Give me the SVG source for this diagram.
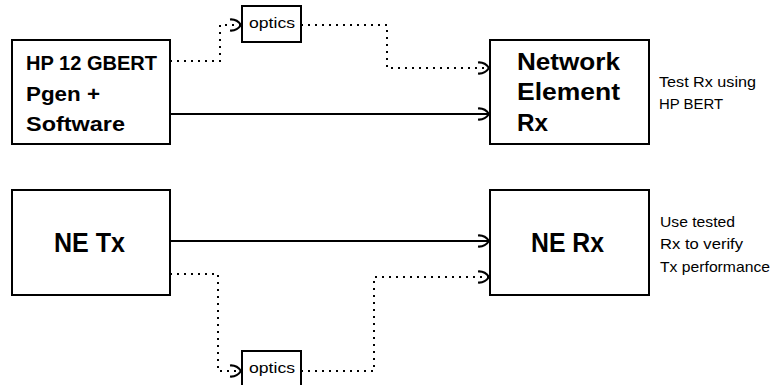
<svg xmlns="http://www.w3.org/2000/svg" width="782" height="385" viewBox="0 0 782 385">
<style>
.box{fill:#fff;stroke:#000;stroke-width:2}
.big{font-family:"Liberation Sans",Arial,sans-serif;font-weight:bold;fill:#000}
.small{font-family:"Liberation Sans",Arial,sans-serif;font-size:15px;fill:#000}
.solid{fill:none;stroke:#000;stroke-width:2;marker-end:url(#arr)}
.dot{fill:none;stroke:#000;stroke-width:2;stroke-dasharray:2 5;marker-end:url(#arr)}
</style>
<defs>
<marker id="arr" markerUnits="userSpaceOnUse" markerWidth="16" markerHeight="16" refX="14" refY="8" orient="auto" overflow="visible">
<path d="M2,2.5 Q9,2 13,8 Q9,14 2,13.5" fill="none" stroke="#000" stroke-width="2.2" stroke-linejoin="round"/>
</marker>
</defs>
<rect width="782" height="385" fill="#fff"/>
<g id="connectors">
<path class="solid" d="M170,114 H490"/>
<path class="solid" d="M170,241 H490"/>
<path class="dot" d="M170,61 H220 V25 H242"/>
<path class="dot" d="M301,25 H387 V68 H490"/>
<path class="dot" d="M170,274 H218 V371 H242"/>
<path class="dot" d="M301,371 H374 V277 H490"/>
</g>
<g id="hp">
<rect class="box" x="12" y="40" width="158" height="104"/>
<text class="big" font-size="20" x="26" y="70" textLength="131" lengthAdjust="spacingAndGlyphs">HP 12 GBERT</text>
<text class="big" font-size="20" x="26" y="101" textLength="74" lengthAdjust="spacingAndGlyphs">Pgen +</text>
<text class="big" font-size="20" x="26" y="131" textLength="99" lengthAdjust="spacingAndGlyphs">Software</text>
</g>
<g id="ne-element">
<rect class="box" x="490" y="40" width="159" height="104"/>
<text class="big" font-size="24" x="517" y="70" textLength="103" lengthAdjust="spacingAndGlyphs">Network</text>
<text class="big" font-size="24" x="517" y="100" textLength="103" lengthAdjust="spacingAndGlyphs">Element</text>
<text class="big" font-size="24" x="517" y="131" textLength="31" lengthAdjust="spacingAndGlyphs">Rx</text>
</g>
<g id="optics-top">
<rect class="box" x="242" y="6" width="59" height="36"/>
<text class="small" x="249" y="28" textLength="46" lengthAdjust="spacingAndGlyphs">optics</text>
</g>
<g id="ne-tx">
<rect class="box" x="12" y="190" width="158" height="105"/>
<text class="big" font-size="27" x="54" y="252" textLength="71" lengthAdjust="spacingAndGlyphs">NE Tx</text>
</g>
<g id="ne-rx">
<rect class="box" x="490" y="190" width="159" height="105"/>
<text class="big" font-size="27" x="531" y="252" textLength="73" lengthAdjust="spacingAndGlyphs">NE Rx</text>
</g>
<g id="optics-bottom">
<rect class="box" x="242" y="351" width="59" height="40"/>
<text class="small" x="249" y="373" textLength="46" lengthAdjust="spacingAndGlyphs">optics</text>
</g>
<g id="note-top">
<text class="small" x="659" y="87" textLength="97" lengthAdjust="spacingAndGlyphs">Test Rx using</text>
<text class="small" x="659" y="109" textLength="64" lengthAdjust="spacingAndGlyphs">HP BERT</text>
</g>
<g id="note-bottom">
<text class="small" x="660" y="227" textLength="75" lengthAdjust="spacingAndGlyphs">Use tested</text>
<text class="small" x="660" y="249" textLength="83" lengthAdjust="spacingAndGlyphs">Rx to verify</text>
<text class="small" x="660" y="271.5" textLength="110" lengthAdjust="spacingAndGlyphs">Tx performance</text>
</g>
</svg>
